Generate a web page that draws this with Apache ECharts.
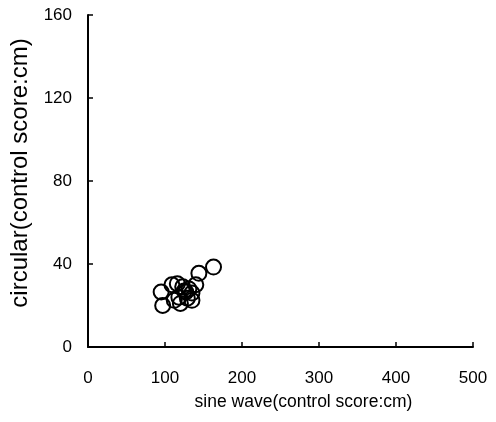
<!DOCTYPE html>
<html><head><meta charset="utf-8">
<script src="https://cdn.jsdelivr.net/npm/echarts@6/dist/echarts.min.js"></script>
<style>html,body{margin:0;padding:0;background:#fff}#c{width:496px;height:422px}</style>
</head><body><div id="c"></div>
<script>
var sineWave = [95, 97, 163, 144, 109, 116, 123, 127, 118, 112, 129, 135, 140, 120, 135, 125, 131];
var circular = [26.5, 20, 38.5, 35.5, 30, 30.5, 29, 26.5, 24, 22.5, 23.5, 26, 30, 21, 22.5, 27, 28];
var xTicks = [0, 100, 200, 300, 400, 500];
var yTicks = [0, 40, 80, 120, 160];
var xName = 'sine wave(control score:cm)';
var yName = 'circular(control score:cm)';

var pts = sineWave.map(function (v, i) { return [v, circular[i]]; });
var font = 'Liberation Sans Narrow, Liberation Sans, Arial, sans-serif';
var chart = echarts.init(document.getElementById('c'));
chart.setOption({
  animation: false,
  backgroundColor: '#fff',
  grid: { left: 87, right: 23, top: 15, bottom: 75 },
  xAxis: {
    type: 'value', min: xTicks[0], max: xTicks[xTicks.length - 1], interval: 100,
    name: xName, nameLocation: 'middle', nameGap: 46,
    nameTextStyle: { color: '#000', fontSize: 17.5, fontFamily: 'Liberation Sans, Arial, sans-serif', padding: [0, 0, 0, 46] },
    axisLine: { lineStyle: { color: '#000', width: 2 } },
    axisTick: { inside: true, length: 5, lineStyle: { color: '#000', width: 1.5 } },
    axisLabel: { color: '#000', fontSize: 17, fontFamily: font, margin: 23 },
    splitLine: { show: false }
  },
  yAxis: {
    type: 'value', min: yTicks[0], max: yTicks[yTicks.length - 1], interval: 40,
    name: yName, nameLocation: 'middle', nameGap: 56,
    nameTextStyle: { color: '#000', fontSize: 24, fontFamily: 'Liberation Sans, Arial, sans-serif', padding: [0, 0, 0, 16] },
    axisLine: { lineStyle: { color: '#000', width: 2 } },
    axisTick: { inside: true, length: 5, lineStyle: { color: '#000', width: 1.5 } },
    axisLabel: { color: '#000', fontSize: 17, fontFamily: font, margin: 16 },
    splitLine: { show: false }
  },
  series: [{
    type: 'scatter', data: pts, symbol: 'circle', symbolSize: 15,
    itemStyle: { color: 'rgba(0,0,0,0)', borderColor: '#000', borderWidth: 2, opacity: 1 }
  }]
});
</script></body></html>
